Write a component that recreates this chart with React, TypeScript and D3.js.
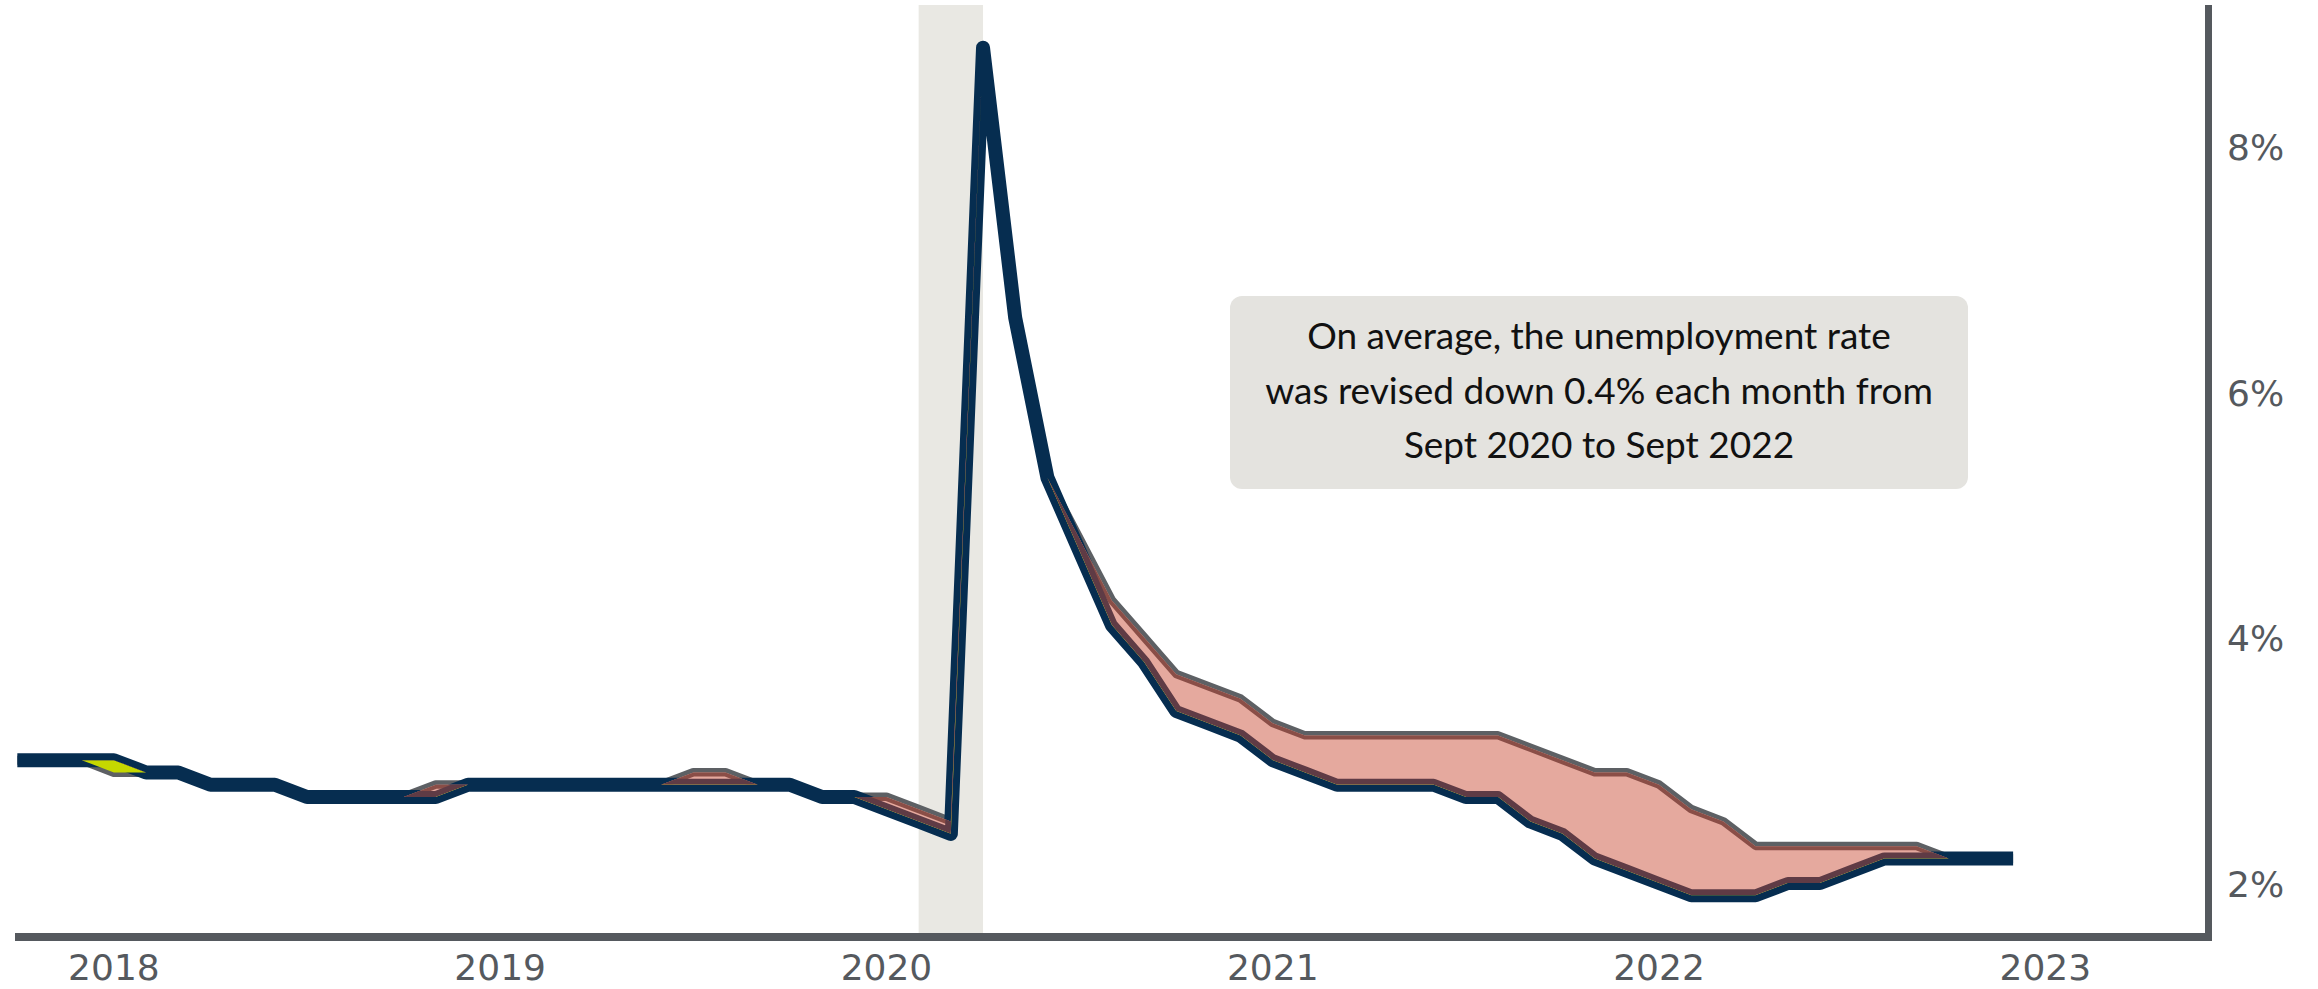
import React from 'react';
import * as d3 from 'd3';

// ---- data (monthly unemployment rate, %) ----
const firstMonth = { year: 2017, month: 10 }; // Oct 2017
const revised = [
  3.0, 3.0, 3.0, // Oct-Dec 2017
  3.0, 2.9, 2.9, 2.8, 2.8, 2.8, 2.7, 2.7, 2.7, 2.7, 2.7, 2.8, // 2018
  2.8, 2.8, 2.8, 2.8, 2.8, 2.8, 2.8, 2.8, 2.8, 2.8, 2.7, 2.7, // 2019
  2.6, 2.5, 2.4, 8.8, 6.6, 5.3, 4.7, 4.1, 3.8, 3.4, 3.3, 3.2, // 2020
  3.0, 2.9, 2.8, 2.8, 2.8, 2.8, 2.7, 2.7, 2.5, 2.4, 2.2, 2.1, // 2021
  2.0, 1.9, 1.9, 1.9, 2.0, 2.0, 2.1, 2.2, 2.2, 2.2, 2.2, 2.2, // 2022
];
const original = [
  3.0, 3.0, 3.0, // Oct-Dec 2017
  2.9, 2.9, 2.9, 2.8, 2.8, 2.8, 2.7, 2.7, 2.7, 2.7, 2.8, 2.8, // 2018
  2.8, 2.8, 2.8, 2.8, 2.8, 2.8, 2.9, 2.9, 2.8, 2.8, 2.7, 2.7, // 2019
  2.7, 2.6, 2.5, 8.8, 6.6, 5.3, 4.8, 4.3, 4.0, 3.7, 3.6, 3.5, // 2020
  3.3, 3.2, 3.2, 3.2, 3.2, 3.2, 3.2, 3.2, 3.1, 3.0, 2.9, 2.9, // 2021
  2.8, 2.6, 2.5, 2.3, 2.3, 2.3, 2.3, 2.3, 2.3, 2.2, 2.2, 2.2, // 2022
];
const yearTicks = [2018, 2019, 2020, 2021, 2022, 2023];
const pctTicks = [2, 4, 6, 8];
const recessionStart = { year: 2020, month: 2 };
const recessionEnd = { year: 2020, month: 4 };
const noteLines = [
  'On average, the unemployment rate',
  'was revised down 0.4% each month from',
  'Sept 2020 to Sept 2022',
];

const W = 2318;
const H = 989;

const mIndex = (d: { year: number; month: number }) => (d.year - 2018) * 12 + (d.month - 1);

type Pt = { m: number; rev: number; orig: number };
const points: Pt[] = revised.map((v, i) => ({
  m: mIndex(firstMonth) + i,
  rev: v,
  orig: original[i],
}));

const x = d3.scaleLinear().domain([0, 60]).range([113.9, 2045.3]);
const y = d3.scaleLinear().domain([2, 8]).range([883, 146]);

const C = {
  navy: '#062d50',
  grey: '#5d6064',
  brown: '#8a4e47',
  dark: '#5f3b45',
  pink: '#e5a99e',
  green: '#c5d800',
  band: '#e9e8e3',
  box: '#e4e3df',
  axis: '#55595e',
};

export default function App() {
  const revLine = d3.line<Pt>().x((d) => x(d.m)).y((d) => y(d.rev))(points) || '';
  const origLine = d3.line<Pt>().x((d) => x(d.m)).y((d) => y(d.orig))(points) || '';
  const between = d3.area<Pt>().x((d) => x(d.m)).y0((d) => y(d.rev)).y1((d) => y(d.orig))(points) || '';
  const above = d3.area<Pt>().x((d) => x(d.m)).y0(0).y1((d) => y(d.rev))(points) || '';
  const below = d3.area<Pt>().x((d) => x(d.m)).y0((d) => y(d.rev)).y1(H)(points) || '';

  const plotLeft = 15;
  const plotRight = 2212;
  const axisY = 937;
  const plotTop = 5;

  const boxX = 1230, boxY = 296, boxW = 738, boxH = 193;

  return (
    <svg
      width={W}
      height={H}
      viewBox={`0 0 ${W} ${H}`}
      style={{ position: 'absolute', left: 0, top: 0, background: '#fff' }}
    >
      <defs>
        <clipPath id="clipBetween"><path d={between} /></clipPath>
        <clipPath id="clipAbove"><path d={above} /></clipPath>
        <clipPath id="clipBelow"><path d={below} /></clipPath>
      </defs>
      <rect x={0} y={0} width={W} height={H} fill="#fff" />

      {/* recession band */}
      <rect
        x={x(mIndex(recessionStart))}
        y={plotTop}
        width={x(mIndex(recessionEnd)) - x(mIndex(recessionStart))}
        height={axisY - 4 - plotTop}
        fill={C.band}
      />

      {/* annotation */}
      <rect x={boxX} y={boxY} width={boxW} height={boxH} rx={12} ry={12} fill={C.box} />
      {noteLines.map((t, i) => (
        <text
          key={i}
          x={boxX + boxW / 2}
          y={349 + i * 54.5}
          textAnchor="middle"
          fontFamily="Lato, 'Open Sans', sans-serif"
          fontSize={37}
          fill="#111"
        >
          {t}
        </text>
      ))}

      {/* original line (grey) */}
      <path d={origLine} fill="none" stroke={C.grey} strokeWidth={9} strokeLinejoin="round" />
      {/* revised line (navy) */}
      <path d={revLine} fill="none" stroke={C.navy} strokeWidth={14} strokeLinejoin="round" />

      {/* revised down: pink */}
      <g clipPath="url(#clipAbove)">
        <g clipPath="url(#clipBetween)">
          <rect x={0} y={0} width={W} height={H} fill={C.pink} />
          <path d={origLine} fill="none" stroke={C.brown} strokeWidth={8} strokeLinejoin="round" />
          <path d={revLine} fill="none" stroke={C.dark} strokeWidth={12} strokeLinejoin="round" />
        </g>
      </g>
      {/* revised up: green */}
      <g clipPath="url(#clipBelow)">
        <g clipPath="url(#clipBetween)">
          <rect x={0} y={0} width={W} height={H} fill={C.green} />
        </g>
      </g>

      {/* axes */}
      <line x1={plotLeft} x2={plotRight} y1={axisY} y2={axisY} stroke={C.axis} strokeWidth={8} />
      <line x1={2208.5} x2={2208.5} y1={plotTop} y2={axisY + 4} stroke={C.axis} strokeWidth={7} />

      {yearTicks.map((yr) => (
        <text
          key={yr}
          x={x(mIndex({ year: yr, month: 1 }))}
          y={980}
          textAnchor="middle"
          fontFamily="'DejaVu Sans', sans-serif"
          fontSize={36}
          fill={C.axis}
        >
          {yr}
        </text>
      ))}
      {pctTicks.map((p) => (
        <text
          key={p}
          x={2227}
          y={y(p) + 14}
          textAnchor="start"
          fontFamily="'DejaVu Sans', sans-serif"
          fontSize={36}
          fill={C.axis}
        >
          {`${p}%`}
        </text>
      ))}
    </svg>
  );
}
